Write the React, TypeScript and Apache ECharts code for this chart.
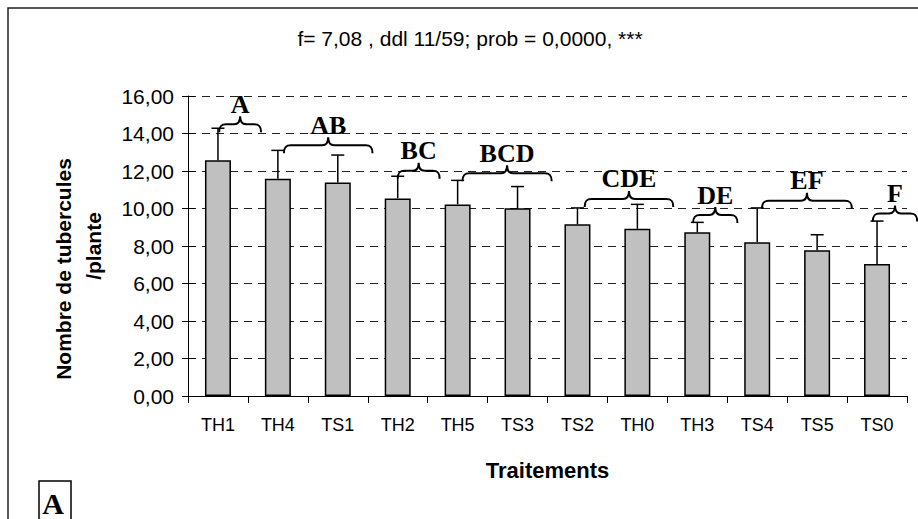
import React, { useEffect, useRef } from "react";
import * as echarts from "echarts";

const categories = ["TH1", "TH4", "TS1", "TH2", "TH5", "TS3", "TS2", "TH0", "TH3", "TS4", "TS5", "TS0"];
const means = [12.57, 11.59, 11.39, 10.54, 10.22, 10.01, 9.16, 8.92, 8.73, 8.2, 7.77, 7.04];
const errors = [1.71, 1.51, 1.46, 1.18, 1.28, 1.16, 0.87, 1.3, 0.53, 1.83, 0.83, 2.29];

const yMin = 0;
const yMax = 16;
const yStep = 2;

// Statistical groups (letters) with the category span of their brace and its level
const groupLabels = ["A", "AB", "BC", "BCD", "CDE", "DE", "EF", "F"];
const groupFrom = [0.02, 1.1, 3.0, 4.08, 6.12, 7.93, 9.08, 10.93];
const groupTo = [0.72, 2.58, 3.7, 5.57, 7.6, 8.67, 10.58, 11.67];
const groupLevel = [14.49, 13.37, 12.02, 11.88, 10.51, 9.65, 10.42, 9.74];

const titleText = "f= 7,08 , ddl 11/59; prob = 0,0000, ***";
const xName = "Traitements";
const yNameLine1 = "Nombre de tubercules";
const yNameLine2 = "/plante";
const panelLetter = "A";

const SANS = '"Liberation Sans", Arial, sans-serif';
const SERIF = '"Liberation Serif", "Times New Roman", serif';

export default function App() {
  const ref = useRef<HTMLDivElement>(null);

  useEffect(() => {
    document.body.style.margin = "0";
    const chart = echarts.init(ref.current!, null, { renderer: "svg" });

    const errData = means.map((m, i) => [i, m, errors[i]]);
    const braceData = groupLabels.map((_, i) => [groupFrom[i], groupLevel[i], groupTo[i], i]);

    chart.setOption({
      animation: false,
      backgroundColor: "#ffffff",
      title: {
        text: titleText,
        left: 470,
        top: 28,
        padding: 0,
        textAlign: "center",
        textStyle: { fontFamily: SANS, fontSize: 21, fontWeight: "normal", color: "#000" },
      },
      grid: { left: 188, right: 11, top: 96, bottom: 123, containLabel: false },
      xAxis: {
        type: "category",
        data: categories,
        axisLine: { lineStyle: { color: "#000", width: 1 } },
        axisTick: { show: true, length: 7, lineStyle: { color: "#000", width: 1 } },
        axisLabel: { fontFamily: SANS, fontSize: 18, color: "#000", margin: 20 },
        name: xName,
        nameLocation: "middle",
        nameGap: 74,
        nameTextStyle: { fontFamily: SANS, fontSize: 22, fontWeight: "bold", color: "#000", verticalAlign: "middle" },
      },
      yAxis: [
        {
          type: "value",
          min: yMin,
          max: yMax,
          interval: yStep,
          axisLine: { show: true, lineStyle: { color: "#000", width: 1 } },
          axisTick: { show: true, length: 6, lineStyle: { color: "#000", width: 1 } },
          axisLabel: {
            fontFamily: SANS,
            fontSize: 21,
            color: "#000",
            margin: 14,
            formatter: (v: number) => v.toFixed(2).replace(".", ","),
          },
          splitLine: { show: true, lineStyle: { color: "#222", width: 1, type: [8, 6] } },
          name: "{a|" + yNameLine1 + "}\n{b|" + yNameLine2 + "}",
          nameLocation: "middle",
          nameRotate: 90,
          nameGap: 110,
          nameTextStyle: {
            fontFamily: SANS,
            fontSize: 21,
            fontWeight: "bold",
            color: "#000",
            lineHeight: 30,
            verticalAlign: "middle",
            rich: {
              a: { fontFamily: SANS, fontSize: 21, fontWeight: "bold", color: "#000", lineHeight: 30, padding: [0, 46, 0, 0] },
              b: { fontFamily: SANS, fontSize: 21, fontWeight: "bold", color: "#000", lineHeight: 30 },
            },
          },
        },
        {
          type: "value",
          min: yMin,
          max: yMax,
          interval: yStep,
          position: "left",
          axisLine: { show: false },
          axisTick: { show: true, inside: true, length: 7, lineStyle: { color: "#000", width: 1 } },
          axisLabel: { show: false },
          splitLine: { show: false },
        },
      ],
      series: [
        {
          type: "bar",
          data: means,
          barWidth: 26,
          z: 2,
          itemStyle: { color: "#c0c0c0", borderColor: "#000", borderWidth: 1.5 },
        },
        {
          type: "custom",
          z: 3,
          data: errData,
          encode: { x: 0, y: 1 },
          renderItem: (_params: any, api: any) => {
            const i = api.value(0);
            const m = api.value(1);
            const e = api.value(2);
            const base = api.coord([i, m]);
            const top = api.coord([i, m + e]);
            const half = 6.5;
            return {
              type: "group",
              children: [
                { type: "line", shape: { x1: base[0], y1: base[1], x2: top[0], y2: top[1] }, style: { stroke: "#000", lineWidth: 1.5 } },
                { type: "line", shape: { x1: top[0] - half, y1: top[1], x2: top[0] + half, y2: top[1] }, style: { stroke: "#000", lineWidth: 1.5 } },
              ],
            };
          },
        },
        {
          type: "custom",
          z: 4,
          clip: false,
          data: braceData,
          encode: { x: 0, y: 1 },
          renderItem: (_params: any, api: any) => {
            const from = api.value(0);
            const level = api.value(1);
            const to = api.value(2);
            const idx = api.value(3);
            const bw = api.size([1, 0])[0];
            const origin = api.coord([0, level]);
            const x0 = origin[0] + from * bw;
            const x1 = origin[0] + to * bw;
            const y = origin[1];
            const xm = (x0 + x1) / 2;
            const d =
              `M ${x0} ${y + 8} C ${x0} ${y + 2} ${x0 + 2} ${y} ${x0 + 7} ${y} ` +
              `L ${xm - 6} ${y} C ${xm - 2} ${y} ${xm} ${y - 2} ${xm} ${y - 8} ` +
              `C ${xm} ${y - 2} ${xm + 2} ${y} ${xm + 6} ${y} ` +
              `L ${x1 - 7} ${y} C ${x1 - 2} ${y} ${x1} ${y + 2} ${x1} ${y + 8}`;
            return {
              type: "group",
              children: [
                { type: "path", shape: { pathData: d }, style: { stroke: "#000", lineWidth: 2, fill: "none" } },
                {
                  type: "text",
                  style: {
                    text: groupLabels[idx],
                    x: xm,
                    y: y - 20,
                    align: "center",
                    verticalAlign: "middle",
                    fontFamily: SERIF,
                    fontSize: 26,
                    fontWeight: "bold",
                    fill: "#000",
                  },
                },
              ],
            };
          },
        },
      ],
      graphic: [
        {
          type: "rect",
          shape: { x: 8, y: 8, width: 1000, height: 1000 },
          style: { fill: "none", stroke: "#222", lineWidth: 1.5 },
          silent: true,
          z: 0,
        },
        {
          type: "rect",
          shape: { x: 39, y: 481, width: 32, height: 60 },
          style: { fill: "#fff", stroke: "#000", lineWidth: 1.5 },
          z: 10,
        },
        {
          type: "text",
          x: 53,
          y: 503,
          style: {
            text: panelLetter,
            align: "center",
            verticalAlign: "middle",
            fontFamily: SERIF,
            fontSize: 30,
            fontWeight: "bold",
            fill: "#000",
          },
          z: 11,
        },
      ],
    });

    return () => chart.dispose();
  }, []);

  return <div ref={ref} style={{ position: "absolute", left: 0, top: 0, width: 918, height: 519 }} />;
}
